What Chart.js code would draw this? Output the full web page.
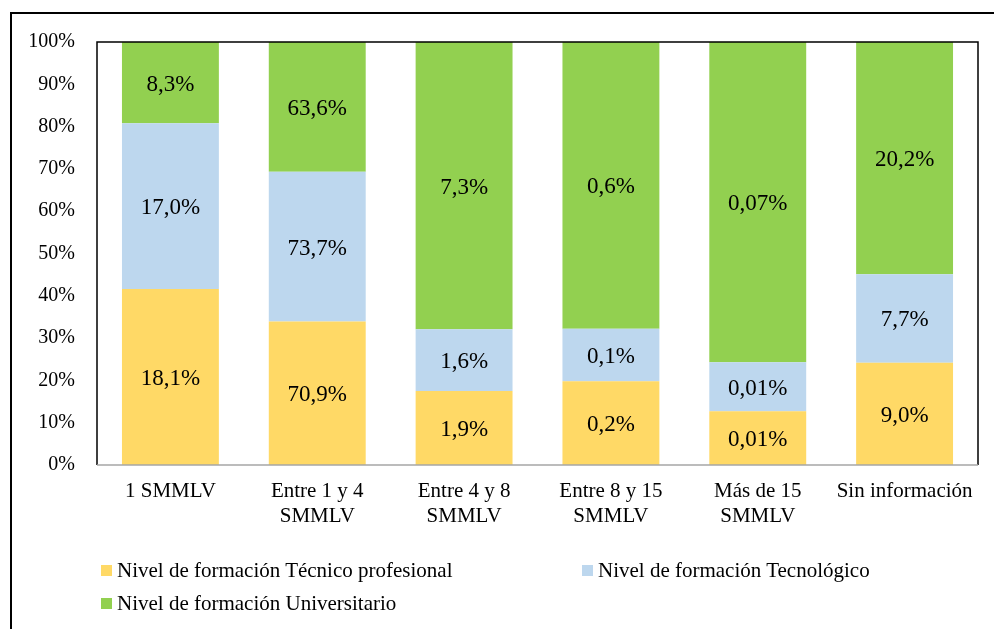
<!DOCTYPE html>
<html>
<head>
<meta charset="utf-8">
<script src="https://cdn.jsdelivr.net/npm/chart.js@4.4.1/dist/chart.umd.min.js"></script>
<style>
  html, body { margin:0; padding:0; background:#fff; }
  #wrap { position:relative; width:994px; height:629px; overflow:hidden; }
  #frame { position:absolute; left:10px; top:12px; width:1000px; height:700px; border-left:2px solid #000; border-top:2px solid #000; }
  canvas { position:absolute; left:0; top:0; }
  .leg { position:absolute; font-family:"Liberation Serif", serif; font-size:21px; color:#000; white-space:nowrap; line-height:22px; }
  .leg i { display:inline-block; width:11px; height:11px; margin-right:5px; vertical-align:1px; }
</style>
</head>
<body>
<div id="wrap">
  <div id="frame"></div>
  <canvas id="chart" width="994" height="629"></canvas>
  <div class="leg" style="left:101px; top:559px"><i style="background:#FFD966"></i>Nivel de formación Técnico profesional</div>
  <div class="leg" style="left:582px; top:559px"><i style="background:#BDD7EE"></i>Nivel de formación Tecnológico</div>
  <div class="leg" style="left:101px; top:592px"><i style="background:#92D050"></i>Nivel de formación Universitario</div>
</div>
<script>
// categories (multi-line labels)
const categories = [['1 SMMLV'], ['Entre 1 y 4', 'SMMLV'], ['Entre 4 y 8', 'SMMLV'], ['Entre 8 y 15', 'SMMLV'], ['Más de 15', 'SMMLV'], ['Sin información']];

// segment heights (share of each bar, %)
const tecnicoPct      = [41.6, 33.9, 17.5, 19.8, 12.7, 24.2];
const tecnologicoPct  = [39.2, 35.4, 14.6, 12.4, 11.6, 20.9];
const universitarioPct= [19.2, 30.7, 67.9, 67.8, 75.7, 54.9];

// printed labels in each segment
const tecnicoLbl       = ['18,1%', '70,9%', '1,9%', '0,2%', '0,01%', '9,0%'];
const tecnologicoLbl   = ['17,0%', '73,7%', '1,6%', '0,1%', '0,01%', '7,7%'];
const universitarioLbl = ['8,3%', '63,6%', '7,3%', '0,6%', '0,07%', '20,2%'];

const yTicks = [0, 10, 20, 30, 40, 50, 60, 70, 80, 90, 100];

const serif = '"Liberation Serif", "Times New Roman", serif';

const segLabels = {
  id: 'segLabels',
  afterDatasetsDraw(chart){
    const ctx = chart.ctx;
    ctx.save();
    ctx.font = '23px ' + serif;
    ctx.fillStyle = '#000';
    ctx.textAlign = 'center';
    ctx.textBaseline = 'middle';
    chart.data.datasets.forEach((ds, i)=>{
      const meta = chart.getDatasetMeta(i);
      meta.data.forEach((bar, j)=>{
        const yc = (bar.y + bar.base)/2;
        ctx.fillText(ds.labelsText[j], bar.x, yc + 2);
      });
    });
    ctx.restore();
  }
};

const plotBorder = {
  id: 'plotBorder',
  afterDraw(chart){
    const a = chart.chartArea, ctx = chart.ctx;
    ctx.save();
    ctx.strokeStyle = '#000';
    ctx.lineWidth = 1.5;
    ctx.beginPath();
    ctx.moveTo(a.left, a.bottom);
    ctx.lineTo(a.left, a.top);
    ctx.lineTo(a.right, a.top);
    ctx.lineTo(a.right, a.bottom);
    ctx.stroke();
    ctx.strokeStyle = '#a6a6a6';
    ctx.lineWidth = 1.5;
    ctx.beginPath();
    ctx.moveTo(a.left, a.bottom);
    ctx.lineTo(a.right, a.bottom);
    ctx.stroke();
    ctx.restore();
  }
};

new Chart(document.getElementById('chart').getContext('2d'), {
  type: 'bar',
  data: {
    labels: categories,
    datasets: [
      { label:'Nivel de formación Técnico profesional', data:tecnicoPct, labelsText:tecnicoLbl, backgroundColor:'#FFD966' },
      { label:'Nivel de formación Tecnológico', data:tecnologicoPct, labelsText:tecnologicoLbl, backgroundColor:'#BDD7EE' },
      { label:'Nivel de formación Universitario', data:universitarioPct, labelsText:universitarioLbl, backgroundColor:'#92D050' }
    ]
  },
  options: {
    responsive:false,
    animation:false,
    layout:{ padding:{ top:42, right:16, bottom:0, left:0 } },
    datasets:{ bar:{ categoryPercentage:1, barPercentage:0.66 } },
    scales:{
      x:{
        stacked:true,
        grid:{ display:false, drawTicks:false },
        border:{ display:false },
        ticks:{ color:'#000', font:{ family:serif, size:21, lineHeight:1.19 }, padding:14, maxRotation:0, autoSkip:false },
        afterFit(s){ s.height = 164; }
      },
      y:{
        stacked:true,
        min:0, max:100,
        afterBuildTicks(s){ s.ticks = yTicks.map(v=>({value:v})); },
        grid:{ display:false, drawTicks:false },
        border:{ display:false },
        ticks:{ color:'#000', font:{ family:serif, size:20 }, padding:22, callback:v=>v+'%' },
        afterFit(s){ s.width = 97; }
      }
    },
    plugins:{ legend:{ display:false }, tooltip:{ enabled:false } }
  },
  plugins:[segLabels, plotBorder]
});
</script>
</body>
</html>
